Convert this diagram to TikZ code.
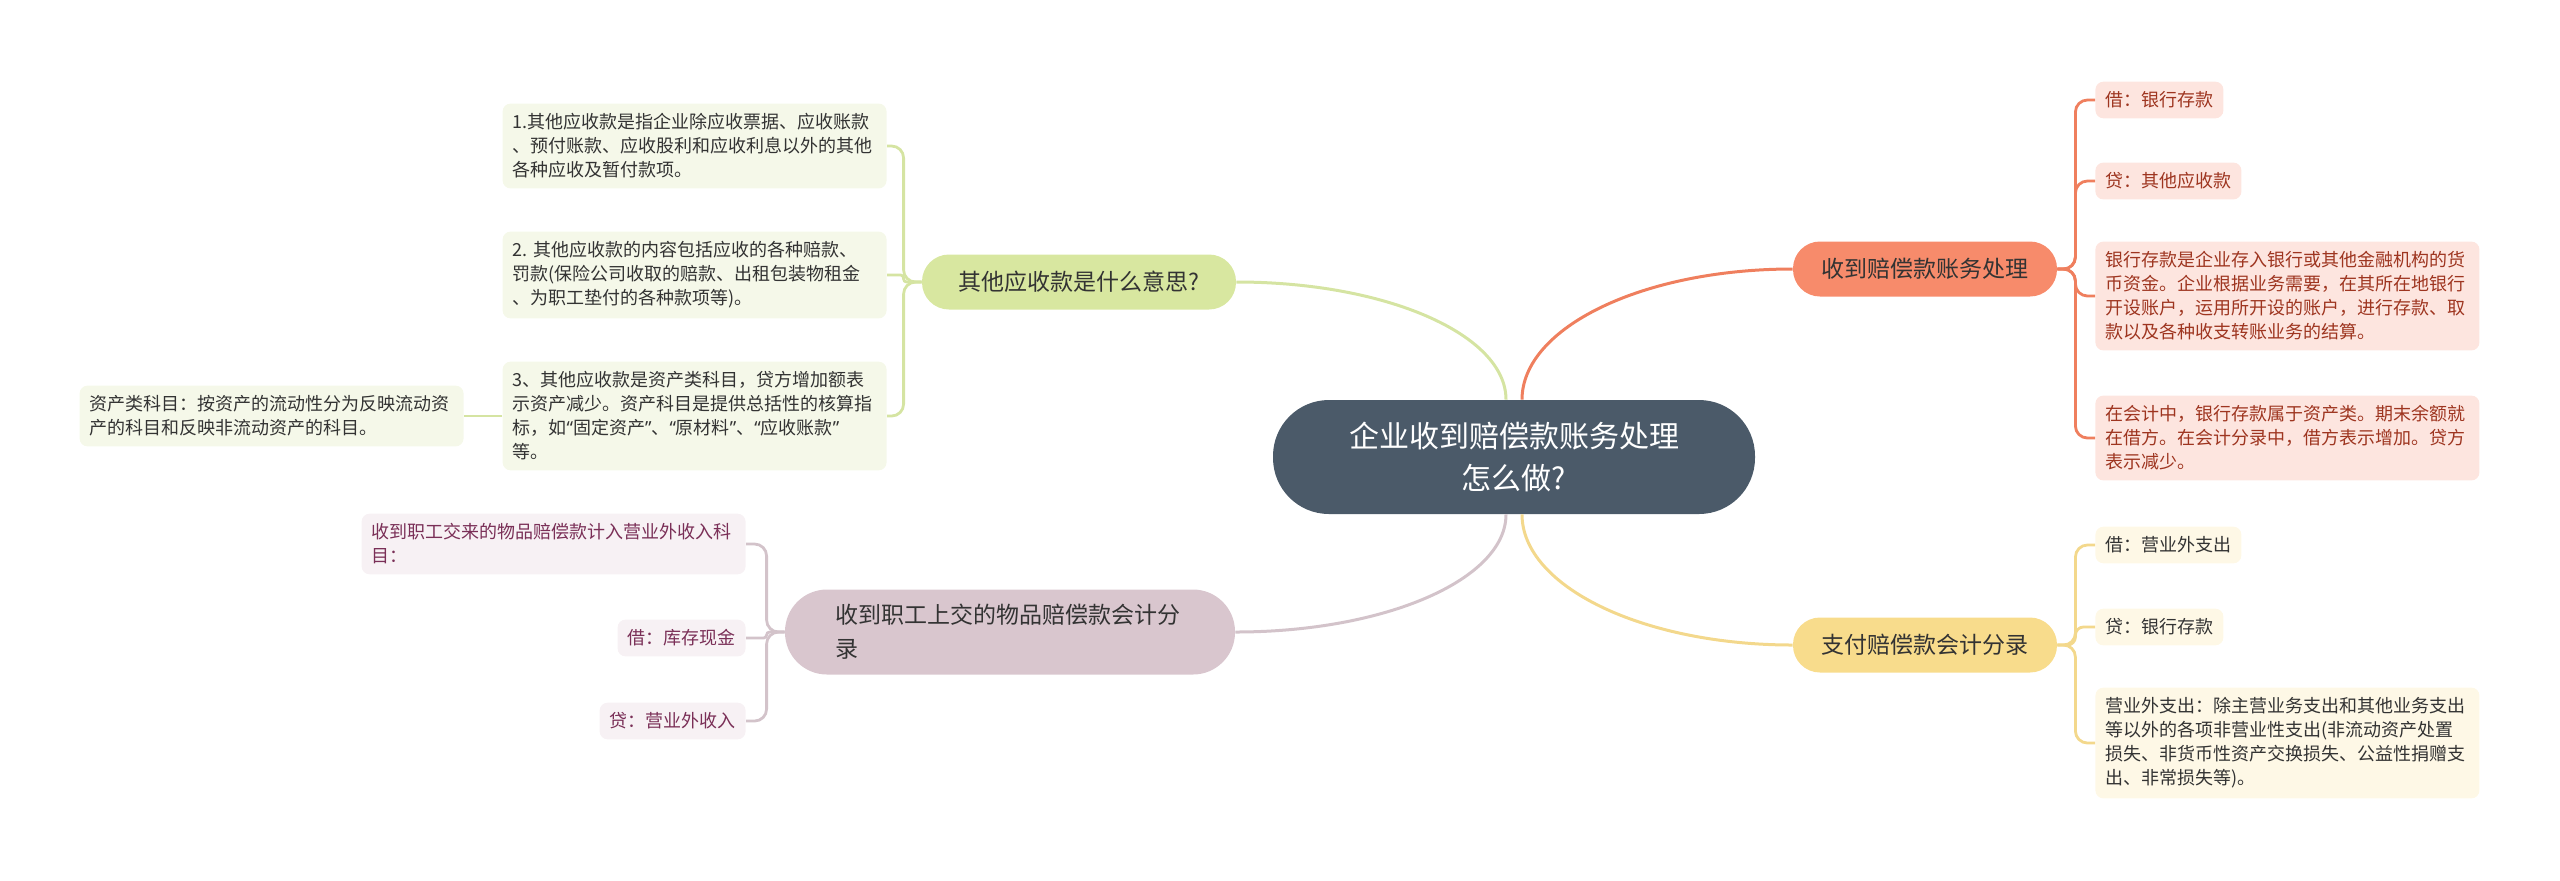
\documentclass[tikz,border=0pt]{standalone}
\usepackage{fontspec}
\newfontfamily\cjk{Noto Sans CJK SC}
\newfontfamily\latq{Noto Sans}
\newcommand{\qopen}{{\latq “}}
\newcommand{\qclose}{{\latq ”}}
\usetikzlibrary{positioning}
\definecolor{hubC}{HTML}{4B5A69}
\definecolor{salC}{HTML}{F78B6B}
\definecolor{salL}{HTML}{FDE5DF}
\definecolor{salT}{HTML}{9E3520}
\definecolor{salN}{HTML}{EF7F5E}
\definecolor{yelC}{HTML}{F8DC8C}
\definecolor{yelL}{HTML}{FEF8E6}
\definecolor{yelN}{HTML}{F3D88C}
\definecolor{grnC}{HTML}{D8E7A0}
\definecolor{grnL}{HTML}{F5F8E9}
\definecolor{grnN}{HTML}{D5E4A2}
\definecolor{mauC}{HTML}{D9C6CE}
\definecolor{mauL}{HTML}{F7F1F4}
\definecolor{mauT}{HTML}{7A2F57}
\definecolor{mauN}{HTML}{D3C3CA}
\definecolor{inkC}{HTML}{333333}
\tikzset{hub/.style={rectangle,rounded corners=28pt,fill=hubC,text=white,font=\cjk\fontsize{15}{21}\selectfont,align=center,minimum width=241pt,minimum height=57pt,inner sep=8pt}}
\tikzset{br/.style={rectangle,rounded corners=13.5pt,text=inkC,font=\cjk\fontsize{11.5}{17}\selectfont,minimum height=27.5pt,inner xsep=12pt,inner ysep=6pt}}
\tikzset{leaf/.style={rectangle,rounded corners=4pt,font=\cjk\fontsize{9}{12}\selectfont,align=left,inner xsep=5pt,inner ysep=5pt}}
\tikzset{wide/.style={text width=182pt}}
\tikzset{ln/.style={line width=1.4pt,rounded corners=6pt}}

\begin{document}
\begin{tikzpicture}[x=0.5pt,y=-0.5pt]
    \useasboundingbox (0,0) rectangle (2560,880);

    \node[hub] (hub) at (1514,457) {企业收到赔偿款账务处理\\怎么做?};

    \node[br,fill=salC,minimum width=132pt] (bs) at (1925,269) {收到赔偿款账务处理};
    \node[br,fill=yelC,minimum width=132pt] (by) at (1925,645) {支付赔偿款会计分录};
    \node[br,fill=grnC,minimum width=157pt] (bg) at (1079,282) {其他应收款是什么意思?};
    \node[br,fill=mauC,rounded corners=21pt,minimum height=42.5pt,inner xsep=25pt,text width=175pt,align=left] (bm) at (1010,632) {收到职工上交的物品赔偿款会计分\\录};

    % right side
    \node[leaf,fill=salL,text=salT,anchor=west] (s1) at (2095,100) {借：银行存款};
    \node[leaf,fill=salL,text=salT,anchor=west] (s2) at (2095,181) {贷：其他应收款};
    \node[leaf,wide,fill=salL,text=salT,anchor=west] (s3) at (2095,296) {银行存款是企业存入银行或其他金融机构的货\\币资金。企业根据业务需要，在其所在地银行\\开设账户，运用所开设的账户，进行存款、取\\款以及各种收支转账业务的结算。};
    \node[leaf,wide,fill=salL,text=salT,anchor=west] (s4) at (2095,438) {在会计中，银行存款属于资产类。期末余额就\\在借方。在会计分录中，借方表示增加。贷方\\表示减少。};

    \node[leaf,fill=yelL,text=inkC,anchor=west] (y1) at (2095,545) {借：营业外支出};
    \node[leaf,fill=yelL,text=inkC,anchor=west] (y2) at (2095,627) {贷：银行存款};
    \node[leaf,wide,fill=yelL,text=inkC,anchor=west] (y3) at (2095,743) {营业外支出：除主营业务支出和其他业务支出\\等以外的各项非营业性支出(非流动资产处置\\损失、非货币性资产交换损失、公益性捐赠支\\出、非常损失等)。};

    % left side
    \node[leaf,wide,fill=grnL,text=inkC,anchor=east] (g1) at (887,146) {1.其他应收款是指企业除应收票据、应收账款\\、预付账款、应收股利和应收利息以外的其他\\各种应收及暂付款项。};
    \node[leaf,wide,fill=grnL,text=inkC,anchor=east] (g2) at (887,275) {2.~其他应收款的内容包括应收的各种赔款、\\罚款(保险公司收取的赔款、出租包装物租金\\、为职工垫付的各种款项等)。};
    \node[leaf,wide,fill=grnL,text=inkC,anchor=east] (g3) at (887,416) {3、其他应收款是资产类科目，贷方增加额表\\示资产减少。资产科目是提供总括性的核算指\\标，如\qopen 固定资产\qclose 、\qopen 原材料\qclose 、\qopen 应收账款\qclose\\等。};
    \node[leaf,wide,fill=grnL,text=inkC,anchor=east] (g3a) at (464,416) {资产类科目：按资产的流动性分为反映流动资\\产的科目和反映非流动资产的科目。};

    \node[leaf,wide,fill=mauL,text=mauT,anchor=east] (m1) at (746,544) {收到职工交来的物品赔偿款计入营业外收入科\\目：};
    \node[leaf,fill=mauL,text=mauT,anchor=east] (m2) at (746,638) {借：库存现金};
    \node[leaf,fill=mauL,text=mauT,anchor=east] (m3) at (746,721) {贷：营业外收入};

    % hub to branches
    \draw[line width=1.5pt,salN] ([xshift=4pt]hub.north) .. controls +(0,-72) and +(-150,0) .. (bs.west);
    \draw[line width=1.5pt,yelN] ([xshift=4pt]hub.south) .. controls +(0,72) and +(-150,0) .. (by.west);
    \draw[line width=1.5pt,grnN] ([xshift=-4pt]hub.north) .. controls +(0,-65) and +(150,0) .. (bg.east);
    \draw[line width=1.5pt,mauN] ([xshift=-4pt]hub.south) .. controls +(0,65) and +(150,0) .. (bm.east);

    % branches to leaves
    \draw[ln,salN] (bs.east) -- ++(18,0) |- (s1.west);
    \draw[ln,salN] (bs.east) -- ++(18,0) |- (s2.west);
    \draw[ln,salN] (bs.east) -- ++(18,0) |- (s3.west);
    \draw[ln,salN] (bs.east) -- ++(18,0) |- (s4.west);
    \draw[ln,yelN] (by.east) -- ++(18,0) |- (y1.west);
    \draw[ln,yelN,rounded corners=4pt] (by.east) -- ++(18,0) |- (y2.west);
    \draw[ln,yelN] (by.east) -- ++(18,0) |- (y3.west);
    \draw[ln,grnN] (bg.west) -- ++(-18,0) |- (g1.east);
    \draw[ln,grnN,rounded corners=1.5pt] (bg.west) -- ++(-18,0) |- (g2.east);
    \draw[ln,grnN] (bg.west) -- ++(-18,0) |- (g3.east);
    \draw[ln,grnN] (g3.west) -- (g3a.east);
    \draw[ln,mauN] (bm.west) -- ++(-18,0) |- (m1.east);
    \draw[ln,mauN,rounded corners=1.5pt] (bm.west) -- ++(-18,0) |- (m2.east);
    \draw[ln,mauN] (bm.west) -- ++(-18,0) |- (m3.east);
\end{tikzpicture}
\end{document}
